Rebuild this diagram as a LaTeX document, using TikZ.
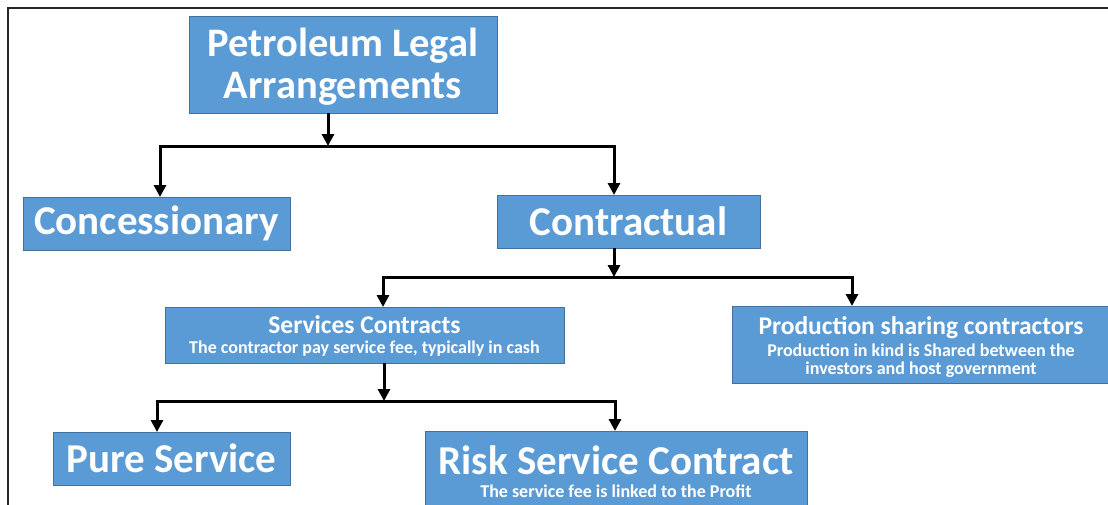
\documentclass[tikz,border=0pt]{standalone}
\usepackage{fontspec}
\setmainfont{Carlito}
\usetikzlibrary{arrows.meta}
\definecolor{boxfill}{HTML}{5B9BD5}
\definecolor{boxline}{HTML}{41719C}
\begin{document}
\begin{tikzpicture}[x=1pt,y=-1pt,
  box/.style={draw=boxline, line width=1pt, fill=boxfill, text=white, inner sep=0pt, outer sep=0pt, align=center, anchor=north west, font=\bfseries},
  bigtext/.style={font=\bfseries\fontsize{41}{45}\selectfont},
  lbl/.style={text=white, inner sep=0pt, anchor=base},
  ttlfont/.style={font=\bfseries\fontsize{25.5}{28}\selectfont},
  subfont/.style={font=\bfseries\fontsize{18}{20}\selectfont},
  arr/.style={line width=3pt, line join=miter, -{Triangle[width=12pt,length=12pt]}},
  framestyle/.style={line width=2.5pt, draw=black!85}]
\useasboundingbox (0,0) rectangle (1108,504);
\fill[white] (0,0) rectangle (1108,504);
\draw[framestyle] (8,510) -- (8,8) -- (1112,8);

% boxes
\node[box, minimum width=308pt, minimum height=97pt] (top) at (189,16) {};
\node[box, bigtext, minimum width=267pt, minimum height=53pt] (conc) at (23,197) {Concessionary};
\node[box, bigtext, minimum width=263pt, minimum height=53pt] (contr) at (497,195) {Contractual};
\node[box, minimum width=399pt, minimum height=56pt] (serv) at (165,307) {};
\node[box, minimum width=378pt, minimum height=77pt] (prod) at (732,306) {};
\node[box, bigtext, minimum width=237pt, minimum height=53pt] (pure) at (53,432) {Pure Service};
\node[box, minimum width=382pt, minimum height=80pt] (risk) at (425,431) {};

% texts of the multi-line boxes
\node[lbl, font=\bfseries\fontsize{40.5}{43}\selectfont] (topA) at (343,56) {Petroleum Legal};
\node[lbl, font=\bfseries\fontsize{40.5}{43}\selectfont] (topB) at (343,98) {Arrangements};
\node[lbl, ttlfont] (servA) at (364.5,333) {Services Contracts};
\node[lbl, subfont] (servB) at (364.5,353) {The contractor pay service fee, typically in cash};
\node[lbl, ttlfont] (prodA) at (921,334) {Production sharing contractors};
\node[lbl, subfont] (prodB) at (921,356) {Production in kind is Shared between the};
\node[lbl, subfont] (prodC) at (921,374) {investors and host government};
\node[lbl, bigtext] (riskA) at (616,474) {Risk Service Contract};
\node[lbl, subfont] (riskB) at (616,497) {The service fee is linked to the Profit};

% junctions
\coordinate (j1) at (328,146);
\coordinate (j1l) at (160,146);
\coordinate (j1r) at (614,146);
\coordinate (j2) at (614,277);
\coordinate (j2l) at (383,277);
\coordinate (j2r) at (852,277);
\coordinate (j3) at (384,401);
\coordinate (j3l) at (157,401);
\coordinate (j3r) at (615,401);

% connectors
\draw[arr] (top.south -| j1) -- (j1);
\draw[arr] (j1r) -- (j1l) -- (conc.north -| j1l);
\draw[arr] (j1l) -- (j1r) -- (contr.north -| j1r);

\draw[arr] (contr.south -| j2) -- (j2);
\draw[arr] (j2r) -- (j2l) -- (serv.north -| j2l);
\draw[arr] (j2l) -- (j2r) -- (prod.north -| j2r);

\draw[arr] (serv.south -| j3) -- (j3);
\draw[arr] (j3r) -- (j3l) -- (pure.north -| j3l);
\draw[arr] (j3l) -- (j3r) -- (risk.north -| j3r);
\end{tikzpicture}
\end{document}
